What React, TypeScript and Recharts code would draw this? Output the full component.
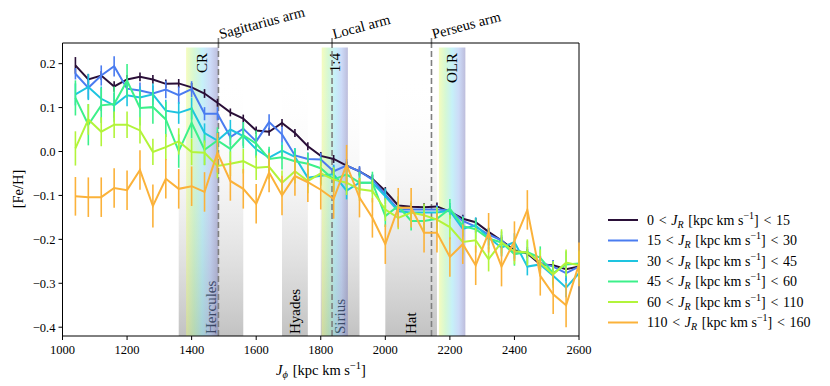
import React from "react";
import { LineChart, Line, XAxis, YAxis, ErrorBar, ReferenceArea, ReferenceLine } from "recharts";

const SERIF = "'Liberation Serif', 'DejaVu Serif', serif";
const PLOT_TOP = 43;

// J_phi bin centres [kpc km/s]
const J_PHI = [
    1040, 1080, 1120, 1160, 1200, 1240, 1280, 1320, 1360, 1400,
    1440, 1480, 1520, 1560, 1600, 1640, 1680, 1720, 1760, 1800,
    1840, 1880, 1920, 1960, 2000, 2040, 2080, 2120, 2160, 2200,
    2240, 2280, 2320, 2360, 2400, 2440, 2480, 2520, 2560, 2600,
];

// mean [Fe/H] per J_R bin
const FEH_0_15 = [
    0.196, 0.164, 0.173, 0.148, 0.164, 0.170, 0.164, 0.154, 0.155, 0.146,
    0.132, 0.111, 0.089, 0.075, 0.048, 0.045, 0.065, 0.042, 0.012, -0.010,
    -0.017, -0.032, -0.045, -0.062, -0.090, -0.123, -0.126, -0.127, -0.125, -0.137,
    -0.153, -0.161, -0.183, -0.203, -0.225, -0.232, -0.257, -0.259, -0.268, -0.262,
];
const FEH_15_30 = [
    0.177, 0.145, 0.173, 0.194, 0.143, 0.139, 0.132, 0.141, 0.128, 0.142,
    0.086, 0.086, 0.033, 0.052, 0.023, 0.067, 0.039, -0.009, -0.017, -0.018,
    -0.045, -0.032, -0.045, -0.064, -0.098, -0.132, -0.132, -0.132, -0.132, -0.134,
    -0.158, -0.171, -0.189, -0.202, -0.232, -0.229, -0.253, -0.262, -0.277, -0.262,
];
const FEH_30_45 = [
    0.130, 0.147, 0.120, 0.105, 0.128, 0.123, 0.130, 0.093, 0.088, 0.098,
    0.042, 0.025, 0.050, 0.035, 0.005, -0.014, 0.002, -0.012, -0.060, -0.055,
    -0.052, -0.089, -0.071, -0.071, -0.102, -0.136, -0.139, -0.139, -0.139, -0.135,
    -0.176, -0.168, -0.196, -0.219, -0.206, -0.262, -0.257, -0.283, -0.310, -0.277,
];
const FEH_45_60 = [
    0.122, 0.061, 0.105, 0.108, 0.161, 0.099, 0.101, 0.073, 0.001, 0.065,
    0.004, 0.025, 0.006, 0.037, 0.018, -0.017, -0.013, -0.022, -0.028, -0.038,
    -0.064, -0.052, -0.071, -0.071, -0.147, -0.124, -0.158, -0.158, -0.153, -0.130,
    -0.170, -0.177, -0.198, -0.207, -0.234, -0.229, -0.242, -0.277, -0.257, -0.255,
];
const FEH_60_110 = [
    0.007, 0.073, 0.045, 0.061, 0.061, 0.048, -0.001, 0.010, 0.023, -0.001,
    -0.003, -0.033, -0.028, -0.022, -0.037, -0.035, -0.071, -0.045, -0.067, -0.050,
    -0.064, -0.071, -0.086, -0.090, -0.132, -0.151, -0.139, -0.145, -0.155, -0.172,
    -0.206, -0.202, -0.245, -0.207, -0.227, -0.230, -0.253, -0.280, -0.253, -0.259,
];
const FEH_110_160 = [
    -0.102, -0.104, -0.104, -0.083, -0.088, -0.042, -0.124, -0.062, -0.085, -0.079,
    -0.092, -0.003, -0.067, -0.085, -0.119, -0.048, -0.100, -0.056, -0.070, -0.087,
    -0.108, -0.030, -0.105, -0.151, -0.211, -0.128, -0.128, -0.185, -0.185, -0.240,
    -0.211, -0.259, -0.185, -0.262, -0.204, -0.133, -0.283, -0.325, -0.350, -0.257,
];

// error on the mean
const ERR_0_15 = [
    0.019, 0.012, 0.010, 0.012, 0.010, 0.010, 0.010, 0.010, 0.010, 0.010,
    0.010, 0.009, 0.009, 0.009, 0.009, 0.009, 0.009, 0.009, 0.009, 0.009,
    0.009, 0.009, 0.009, 0.009, 0.009, 0.009, 0.009, 0.009, 0.009, 0.009,
    0.009, 0.010, 0.009, 0.009, 0.010, 0.010, 0.010, 0.011, 0.012, 0.012,
];
const ERR_15_30 = [
    0.013, 0.025, 0.023, 0.023, 0.020, 0.018, 0.018, 0.020, 0.020, 0.018,
    0.015, 0.015, 0.018, 0.015, 0.015, 0.018, 0.018, 0.015, 0.015, 0.015,
    0.015, 0.015, 0.012, 0.012, 0.012, 0.012, 0.010, 0.010, 0.010, 0.010,
    0.012, 0.012, 0.012, 0.012, 0.012, 0.012, 0.015, 0.015, 0.018, 0.020,
];
const ERR_30_45 = [
    0.025, 0.030, 0.028, 0.028, 0.025, 0.025, 0.025, 0.025, 0.025, 0.025,
    0.022, 0.020, 0.022, 0.022, 0.020, 0.020, 0.020, 0.020, 0.020, 0.020,
    0.020, 0.020, 0.018, 0.018, 0.018, 0.018, 0.015, 0.015, 0.015, 0.018,
    0.018, 0.018, 0.018, 0.020, 0.020, 0.020, 0.020, 0.020, 0.022, 0.025,
];
const ERR_45_60 = [
    0.040, 0.047, 0.040, 0.040, 0.038, 0.040, 0.038, 0.040, 0.038, 0.035,
    0.035, 0.030, 0.030, 0.030, 0.030, 0.028, 0.028, 0.028, 0.025, 0.025,
    0.025, 0.025, 0.025, 0.025, 0.025, 0.022, 0.022, 0.022, 0.022, 0.022,
    0.022, 0.022, 0.025, 0.025, 0.026, 0.026, 0.026, 0.028, 0.030, 0.030,
];
const ERR_60_110 = [
    0.039, 0.035, 0.033, 0.030, 0.030, 0.030, 0.030, 0.030, 0.030, 0.030,
    0.028, 0.028, 0.028, 0.028, 0.028, 0.028, 0.028, 0.028, 0.028, 0.028,
    0.028, 0.028, 0.026, 0.026, 0.026, 0.026, 0.026, 0.026, 0.028, 0.028,
    0.028, 0.028, 0.028, 0.030, 0.030, 0.030, 0.030, 0.030, 0.030, 0.032,
];
const ERR_110_160 = [
    0.044, 0.045, 0.045, 0.045, 0.045, 0.045, 0.049, 0.045, 0.045, 0.045,
    0.045, 0.045, 0.045, 0.045, 0.045, 0.045, 0.045, 0.045, 0.045, 0.045,
    0.045, 0.045, 0.045, 0.045, 0.045, 0.045, 0.045, 0.045, 0.045, 0.045,
    0.045, 0.045, 0.045, 0.045, 0.045, 0.045, 0.045, 0.045, 0.050, 0.050,
];

const X_TICKS = [1000, 1200, 1400, 1600, 1800, 2000, 2200, 2400, 2600];
const Y_TICKS = [-0.4, -0.3, -0.2, -0.1, 0.0, 0.1, 0.2];
const X_DOMAIN: [number, number] = [1000, 2600];
const Y_DOMAIN: [number, number] = [-0.42, 0.247];

// moving groups (grey bands), resonances (rainbow bands), spiral arms (dashed lines)
const GROUPS = [
    { name: "Hercules", from: 1360, to: 1560 },
    { name: "Hyades", from: 1680, to: 1760 },
    { name: "Sirius", from: 1800, to: 1920 },
    { name: "Hat", from: 2000, to: 2160 },
];
const RESONANCES = [
    { name: "CR", from: 1383, to: 1483 },
    { name: "1:4", from: 1803, to: 1884 },
    { name: "OLR", from: 2166, to: 2248 },
];
const ARMS = [
    { name: "Sagittarius arm", at: 1483 },
    { name: "Local arm", at: 1835 },
    { name: "Perseus arm", at: 2143 },
];

const SERIES = [
    { key: "s0", err: "e0", lo: 0, hi: 15, color: "#2a0f38", values: FEH_0_15, errors: ERR_0_15 },
    { key: "s1", err: "e1", lo: 15, hi: 30, color: "#4a7cf0", values: FEH_15_30, errors: ERR_15_30 },
    { key: "s2", err: "e2", lo: 30, hi: 45, color: "#1ec4e0", values: FEH_30_45, errors: ERR_30_45 },
    { key: "s3", err: "e3", lo: 45, hi: 60, color: "#3cf08a", values: FEH_45_60, errors: ERR_45_60 },
    { key: "s4", err: "e4", lo: 60, hi: 110, color: "#b2f43a", values: FEH_60_110, errors: ERR_60_110 },
    { key: "s5", err: "e5", lo: 110, hi: 160, color: "#fbb23a", values: FEH_110_160, errors: ERR_110_160 },
];

const rows = J_PHI.map((j, i) => {
    const row: Record<string, number> = { j };
    SERIES.forEach((s) => {
        row[s.key] = s.values[i];
        row[s.err] = s.errors[i];
    });
    return row;
});

const fmtY = (v: number) => (v < 0 ? "\u2212" + Math.abs(v).toFixed(1) : v.toFixed(1));

function GroupLabel({ viewBox, text }: any) {
    if (!viewBox) return null;
    const cx = viewBox.x + viewBox.width / 2;
    const by = viewBox.y + viewBox.height - 2;
    return (
        <text x={cx} y={by} transform={`rotate(-90 ${cx} ${by})`} textAnchor="start" dominantBaseline="central"
            fontFamily={SERIF} fontSize={15} fill="#000">
            {text}
        </text>
    );
}

function ResonanceLabel({ viewBox, text }: any) {
    if (!viewBox) return null;
    const cx = viewBox.x + viewBox.width / 2;
    const ty = 53;
    return (
        <text x={cx} y={ty} transform={`rotate(-90 ${cx} ${ty})`} textAnchor="end" dominantBaseline="central"
            fontFamily={SERIF} fontSize={15} fill="#000">
            {text}
        </text>
    );
}

function ArmLabel({ viewBox, text }: any) {
    if (!viewBox) return null;
    const x = viewBox.x;
    const tx = x + 2;
    const ty = PLOT_TOP - 4;
    return (
        <g>
            <line x1={x} y1={PLOT_TOP - 5} x2={x} y2={PLOT_TOP} stroke="#7f7f7f" strokeWidth={1.6} />
            <text x={tx} y={ty} transform={`rotate(-15 ${tx} ${ty})`} fontFamily={SERIF} fontSize={14.5} fill="#000">
                {text}
            </text>
        </g>
    );
}

function Overlay() {
    return (
        <svg width={830} height={386} style={{ position: "absolute", left: 0, top: 0, pointerEvents: "none" }}>
            <text x={18} y={189} transform="rotate(-90 18 189)" textAnchor="middle" dominantBaseline="central"
                fontFamily={SERIF} fontSize={14.5} fill="#000">
                [Fe/H]
            </text>
            <text x={321} y={375} textAnchor="middle" fontFamily={SERIF} fontSize={14.5} fill="#000">
                <tspan fontStyle="italic">J</tspan>
                <tspan fontStyle="italic" fontSize={10.5} dy={3}>ϕ</tspan>
                <tspan dy={-3}>{"\u2004[kpc km s"}</tspan>
                <tspan fontSize={10.5} dy={-6}>−1</tspan>
                <tspan dy={6}>]</tspan>
            </text>
            {SERIES.map((s, i) => {
                const y = 220 + i * 20.5;
                return (
                    <g key={s.key}>
                        <line x1={608} y1={y} x2={638} y2={y} stroke={s.color} strokeWidth={2} />
                        <text x={647} y={y + 4.5} fontFamily={SERIF} fontSize={14} fill="#000">
                            <tspan>{`${s.lo}\u2004<\u2004`}</tspan>
                            <tspan fontStyle="italic">J</tspan>
                            <tspan fontStyle="italic" fontSize={10} dy={3}>R</tspan>
                            <tspan dy={-3}>{"\u2004[kpc km s"}</tspan>
                            <tspan fontSize={10} dy={-6}>−1</tspan>
                            <tspan dy={6}>{`]\u2004<\u2004${s.hi}`}</tspan>
                        </text>
                    </g>
                );
            })}
        </svg>
    );
}

export default function App() {
    return (
        <div style={{ position: "absolute", left: 0, top: 0, width: 830, height: 386, background: "#fff" }}>
            <LineChart width={830} height={386} data={rows} margin={{ top: PLOT_TOP, right: 251, bottom: 0, left: 0 }}>
                <defs>
                    <linearGradient id="greyFade" x1="0" y1="0" x2="0" y2="1">
                        <stop offset="0%" stopColor="#ffffff" stopOpacity={0} />
                        <stop offset="100%" stopColor="#c2c2c2" stopOpacity={1} />
                    </linearGradient>
                    <linearGradient id="rainbow" x1="0" y1="0" x2="1" y2="0">
                        <stop offset="0%" stopColor="#e8f870" />
                        <stop offset="25%" stopColor="#a4f0a0" />
                        <stop offset="50%" stopColor="#80e0f0" />
                        <stop offset="75%" stopColor="#90b0f0" />
                        <stop offset="100%" stopColor="#6c6cb0" />
                    </linearGradient>
                </defs>
                <XAxis dataKey="j" type="number" domain={X_DOMAIN} ticks={X_TICKS} allowDataOverflow
                    height={50} tickSize={4} tickMargin={5} stroke="#000"
                    tick={{ fill: "#000", fontSize: 12.5, fontFamily: SERIF }} />
                <YAxis type="number" domain={Y_DOMAIN} ticks={Y_TICKS} allowDataOverflow
                    width={62.5} tickSize={4} tickMargin={3} stroke="#000" tickFormatter={fmtY}
                    tick={{ fill: "#000", fontSize: 12.5, fontFamily: SERIF }} />
                {GROUPS.map((g) => (
                    <ReferenceArea key={g.name} x1={g.from} x2={g.to} y1={Y_DOMAIN[0]} y2={0.17}
                        fill="url(#greyFade)" fillOpacity={1} stroke="none"
                        label={(p: any) => <GroupLabel viewBox={p.viewBox} text={g.name} />} />
                ))}
                {ARMS.map((a) => (
                    <ReferenceLine key={a.name} x={a.at} stroke="#7f7f7f" strokeWidth={1.6} strokeDasharray="6 3"
                        label={(p: any) => <ArmLabel viewBox={p.viewBox} text={a.name} />} />
                ))}
                {RESONANCES.map((r) => (
                    <ReferenceArea key={r.name} x1={r.from} x2={r.to} y1={Y_DOMAIN[0]} y2={0.237}
                        fill="url(#rainbow)" fillOpacity={0.45} stroke="none"
                        label={(p: any) => <ResonanceLabel viewBox={p.viewBox} text={r.name} />} />
                ))}
                <ReferenceLine y={Y_DOMAIN[1]} stroke="#000" strokeWidth={1} />
                <ReferenceLine x={X_DOMAIN[1]} stroke="#000" strokeWidth={1} />
                {SERIES.map((s) => (
                    <Line key={s.key} dataKey={s.key} type="linear" stroke={s.color} strokeWidth={2}
                        dot={false} activeDot={false} isAnimationActive={false}>
                        <ErrorBar dataKey={s.err} width={0} stroke={s.color} strokeWidth={1.6}
                            direction="y" isAnimationActive={false} />
                    </Line>
                ))}
            </LineChart>
            <Overlay />
        </div>
    );
}
